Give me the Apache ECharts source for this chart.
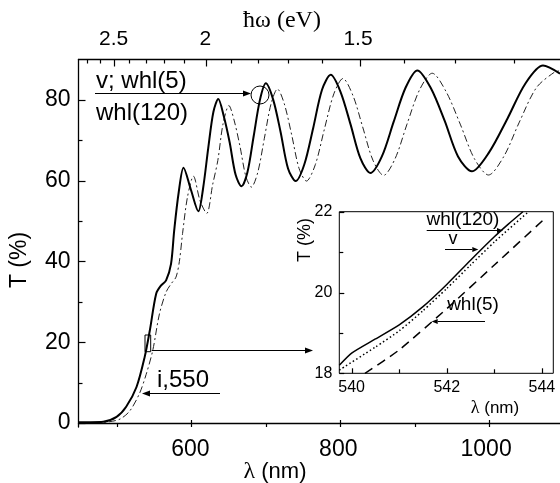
<!DOCTYPE html>
<html>
<head>
<meta charset="utf-8">
<script src="https://cdn.jsdelivr.net/npm/echarts@6/dist/echarts.min.js"></script>
<style>
  html, body { margin: 0; padding: 0; background: #fff; }
  #chart { width: 560px; height: 483px; }
</style>
</head>
<body>
<div id="chart"></div>
<script>
// Transmission spectra T(λ) with photon-energy scale on top, plus a zoomed inset near 542 nm.
const HC = 1240; // eV·nm, λ(nm) = HC / ħω(eV)

// Main panel: solid curve (v; whl(5); whl(120) coincide at this scale)
const solidLambda = [449, 465, 482, 500, 513, 527, 538, 545, 553.6, 560, 567, 573.7, 578, 584, 590.6,
  600.5, 610.7, 617, 624, 631, 637.6, 645, 653, 661, 669, 677, 685.5, 694, 702, 712, 722, 732, 742.3,
  754, 766, 778, 789.8, 803, 816.5, 830, 843.5, 859, 875, 891, 907, 925, 944, 962, 980.8, 1004, 1029,
  1053, 1077, 1100];
const solidT = [0.2, 0.2, 0.3, 1.5, 4, 8.9, 16.3, 22.9, 32, 34, 35.3, 39.4, 47.7, 57, 63.2,
  57.8, 52.4, 58, 68, 77, 80.2, 76, 69.5, 61.5, 58.6, 62, 71, 80, 84.1, 80, 72, 63, 59.9,
  64, 73, 82.5, 86.2, 82, 74, 65.5, 61.9, 66, 74.6, 83, 87.3, 83, 74.8, 66, 62.3, 67, 75.4,
  84, 88.5, 86.5];

// Main panel: dash-dot curve (i,550)
const dashLambda = [449, 470, 490, 505, 518, 531, 540, 549, 558, 567, 574, 580.4, 585, 589.3, 596,
  604, 613, 622, 630, 637, 644, 652, 659, 667, 675, 682.4, 691, 700, 709, 717.7, 727, 737, 747, 757,
  769, 781, 794, 806.3, 820, 833, 847, 861.3, 877, 893, 910, 927.1, 946, 965, 984, 1003.2, 1024, 1045,
  1068, 1092, 1100];
const dashT = [0.1, 0.1, 0.3, 1.0, 3, 7.3, 12, 18, 27, 32.4, 34.5, 36.1, 40, 46.9, 56,
  61.1, 55, 51.9, 59, 65, 74, 78.6, 75, 68.5, 61, 58.4, 62, 70.5, 79, 82.7, 79, 71.3, 63, 59.9,
  64, 72.6, 81.5, 85.3, 81, 73.3, 65, 61.3, 65.5, 74, 82.5, 86.6, 82, 74, 65.5, 61.4, 66, 74.5,
  83, 86.8, 87.2];

// Inset curves
const whl120Lambda = [539.74, 540.0, 540.5, 541.0, 541.5, 542.0, 542.5, 543.0, 543.3, 543.6];
const whl120T = [18.2, 18.5, 18.85, 19.2, 19.65, 20.2, 20.8, 21.38, 21.7, 22.0];
const vLambda = [539.74, 540.5, 541.0, 541.5, 542.0, 542.5, 543.0, 543.72];
const vT = [18.08, 18.65, 19.05, 19.55, 20.1, 20.68, 21.25, 22.0];
const whl5Lambda = [540.28, 541.0, 542.0, 543.0, 544.07];
const whl5T = [18.0, 18.58, 19.6, 20.68, 21.84];

// Tick values
const lambdaTicks = [600, 800, 1000];
const lambdaMinor = [500, 700, 900, 1100];
const tTicks = [0, 20, 40, 60, 80];
const tMinor = [10, 30, 50, 70];
const evTicks = [2.5, 2, 1.5];
const evMinor = [2.7, 2.6, 2.4, 2.3, 2.2, 2.1, 1.9, 1.8, 1.7, 1.6, 1.4, 1.3, 1.2];
const insetLambdaTicks = [540, 542, 544];
const insetLambdaMinor = [541, 543];
const insetTTicks = [18, 20, 22];
const insetTMinor = [19, 21];

const zip = (xs, ys) => xs.map((x, i) => [x, ys[i]]);

const SANS = 'Liberation Sans, Arial, sans-serif';
const SERIF = 'Liberation Serif, Times New Roman, serif';
const BLACK = '#000';

const W = 560, H = 483;
const X_MIN = 448.5, X_MAX = 1100, Y_MIN = -1, Y_MAX = 90;
const IX_MIN = 539.74, IX_MAX = 544.24, IY_MIN = 18, IY_MAX = 22;
const MAIN = { left: 78.5, top: 59.5, right: -3.8, bottom: 56 };
const INSET = { left: 339.3, top: 211.7, right: 6.7, bottom: 109.7 };

function axisBase(extra) {
  return Object.assign({
    type: 'value',
    splitLine: { show: false },
    axisLine: { show: true, lineStyle: { color: BLACK, width: 1.3 } },
    axisLabel: { show: false },
    axisTick: { show: false }
  }, extra);
}

function arrow(x1, y1, x2, y2, head, w) {
  const a = Math.atan2(y2 - y1, x2 - x1);
  const bx = x2 - head * Math.cos(a), by = y2 - head * Math.sin(a);
  const px = -Math.sin(a) * w / 2, py = Math.cos(a) * w / 2;
  return [
    { type: 'line', shape: { x1: x1, y1: y1, x2: bx, y2: by }, style: { stroke: BLACK, lineWidth: 1 } },
    { type: 'polygon', shape: { points: [[x2, y2], [bx + px, by + py], [bx - px, by - py]] }, style: { fill: BLACK } }
  ];
}

function label(text, x, y, size, opts) {
  return Object.assign({
    type: 'text', x: x, y: y,
    style: Object.assign({ text: text, font: size + 'px ' + SANS, fill: BLACK, align: 'center', verticalAlign: 'middle' }, (opts && opts.style) || {})
  }, opts && opts.rotation !== undefined ? { rotation: opts.rotation } : {});
}

const chart = echarts.init(document.getElementById('chart'), null, { renderer: 'canvas' });

const option = {
  backgroundColor: '#fff',
  animation: false,
  grid: [
    Object.assign({}, MAIN),
    Object.assign({ show: true, backgroundColor: '#fff', borderColor: BLACK, borderWidth: 1 }, INSET)
  ],
  xAxis: [
    // 0: λ bottom
    axisBase({ gridIndex: 0, position: 'bottom', min: X_MIN, max: X_MAX,
      axisLabel: { show: true, customValues: lambdaTicks, color: BLACK, fontSize: 23, fontFamily: SANS, margin: 11,
        formatter: v => String(v) } }),
    // 1: ħω top
    axisBase({ gridIndex: 0, position: 'top', min: X_MIN, max: X_MAX,
      axisLabel: { show: true, customValues: evTicks.map(e => HC / e), color: BLACK, fontSize: 21, fontFamily: SANS, margin: 10,
        formatter: v => String(Math.round(HC / v * 10) / 10) } }),
    // 2: inset λ
    axisBase({ gridIndex: 1, position: 'bottom', min: IX_MIN, max: IX_MAX,
      axisLine: { show: false },
      axisLabel: { show: true, customValues: insetLambdaTicks, color: BLACK, fontSize: 16, fontFamily: SANS, margin: 6,
        formatter: v => String(v) } })
  ],
  yAxis: [
    // 0: T main
    axisBase({ gridIndex: 0, position: 'left', min: Y_MIN, max: Y_MAX,
      axisLabel: { show: true, customValues: tTicks, color: BLACK, fontSize: 23, fontFamily: SANS, margin: 8 } }),
    // 1: inset T
    axisBase({ gridIndex: 1, position: 'left', min: IY_MIN, max: IY_MAX,
      axisLine: { show: false },
      axisLabel: { show: true, customValues: insetTTicks, color: BLACK, fontSize: 16, fontFamily: SANS, margin: 7 } })
  ],
  series: [
    { name: 'i,550', type: 'line', xAxisIndex: 0, yAxisIndex: 0, data: zip(dashLambda, dashT),
      symbol: 'none', smooth: 0.3, lineStyle: { color: '#222', width: 1, type: [7, 3, 2, 3] } },
    { name: 'v; whl(5); whl(120)', type: 'line', xAxisIndex: 0, yAxisIndex: 0, data: zip(solidLambda, solidT),
      symbol: 'none', smooth: 0.3, lineStyle: { color: BLACK, width: 2 } },
    { name: 'whl(5)', type: 'line', xAxisIndex: 2, yAxisIndex: 1, data: zip(whl5Lambda, whl5T),
      symbol: 'none', smooth: 0.2, lineStyle: { color: BLACK, width: 1.5, type: [9, 6] } },
    { name: 'v', type: 'line', xAxisIndex: 2, yAxisIndex: 1, data: zip(vLambda, vT),
      symbol: 'none', smooth: 0.2, lineStyle: { color: BLACK, width: 1.5, type: [1.5, 2.5] } },
    { name: 'whl(120)', type: 'line', xAxisIndex: 2, yAxisIndex: 1, data: zip(whl120Lambda, whl120T),
      symbol: 'none', smooth: 0.2, lineStyle: { color: BLACK, width: 1.5 } }
  ]
};

chart.setOption(option);

// Inward tick marks, placed on the same linear layout as the grids
function scaleFn(box, min, max, horizontal) {
  if (horizontal) {
    const x0 = box.left, x1 = W - box.right;
    return v => x0 + (v - min) / (max - min) * (x1 - x0);
  }
  const y0 = H - box.bottom, y1 = box.top;
  return v => y0 + (v - min) / (max - min) * (y1 - y0);
}
const mx = scaleFn(MAIN, X_MIN, X_MAX, true), my = scaleFn(MAIN, Y_MIN, Y_MAX, false);
const ix = scaleFn(INSET, IX_MIN, IX_MAX, true), iy = scaleFn(INSET, IY_MIN, IY_MAX, false);

const tickEls = [];
function tickLine(x1, y1, x2, y2) {
  tickEls.push({ type: 'line', z: 10, shape: { x1: x1, y1: y1, x2: x2, y2: y2 }, style: { stroke: BLACK, lineWidth: 1.2 } });
}
const snap = p => Math.round(p) + 0.5;
const mB = H - MAIN.bottom, mT = MAIN.top, mL = MAIN.left;
lambdaTicks.forEach(v => { const x = snap(mx(v)); tickLine(x, mB, x, mB - 7); });
lambdaMinor.forEach(v => { const x = snap(mx(v)); tickLine(x, mB, x, mB - 4); });
evTicks.forEach(e => { const x = snap(mx(HC / e)); tickLine(x, mT, x, mT + 7); });
evMinor.forEach(e => { const x = snap(mx(HC / e)); tickLine(x, mT, x, mT + 4); });
tTicks.forEach(v => { const y = snap(my(v)); tickLine(mL, y, mL + 7, y); });
tMinor.forEach(v => { const y = snap(my(v)); tickLine(mL, y, mL + 4, y); });

const iB = H - INSET.bottom, iL = INSET.left;
insetLambdaTicks.forEach(v => { const x = snap(ix(v)); tickLine(x, iB, x, iB - 5); });
insetLambdaMinor.forEach(v => { const x = snap(ix(v)); tickLine(x, iB, x, iB - 4); });
insetTTicks.forEach(v => { const y = snap(iy(v)); tickLine(iL, y, iL + 5, y); });
insetTMinor.forEach(v => { const y = snap(iy(v)); tickLine(iL, y, iL + 4, y); });

// Axis titles and annotations
const graphics = tickEls.concat([
  label('T (%)', 20, 260, 23, { rotation: Math.PI / 2 }),
  { type: 'text', x: 275, y: 472, style: { text: '{l|λ} (nm)', font: '22px ' + SANS, fill: BLACK, align: 'center', verticalAlign: 'middle',
      rich: { l: { fontFamily: SERIF, fontSize: 24, fill: BLACK } } } },
  { type: 'text', x: 282, y: 21, style: { text: 'ħω (eV)', font: '24px ' + SERIF, fill: BLACK, align: 'center', verticalAlign: 'middle' } },

  // Main-panel annotations
  label('v; whl(5)', 96, 81, 24, { style: { align: 'left' } }),
  label('whl(120)', 96, 113, 24, { style: { align: 'left' } }),
  { type: 'circle', shape: { cx: 260, cy: 95, r: 9 }, style: { fill: 'none', stroke: BLACK, lineWidth: 1 } },
  ...arrow(95, 93.5, 251, 93.5, 8, 6),
  label('i,550', 157, 380, 24, { style: { align: 'left' } }),
  ...arrow(220, 393.5, 142, 393.5, 8, 6),
  { type: 'rect', shape: { x: 145, y: 335, width: 5.7, height: 16.7 }, style: { fill: 'none', stroke: BLACK, lineWidth: 1 } },
  ...arrow(151.7, 350.5, 313, 350.5, 8, 6),

  // Inset titles and labels
  label('T (%)', 305, 240, 18, { rotation: Math.PI / 2 }),
  { type: 'text', x: 495, y: 408, style: { text: '{l|λ} (nm)', font: '17px ' + SANS, fill: BLACK, align: 'center', verticalAlign: 'middle',
      rich: { l: { fontFamily: SERIF, fontSize: 18, fill: BLACK } } } },
  label('whl(120)', 463, 220, 19),
  ...arrow(426.7, 230.5, 503, 230.5, 6, 5),
  label('v', 453, 239, 18),
  ...arrow(445, 249.5, 478.3, 249.5, 6, 5),
  label('whl(5)', 473, 305, 19),
  ...arrow(485, 321.5, 431.7, 321.5, 6, 5)
]);

chart.setOption({ graphic: graphics });
</script>
</body>
</html>
